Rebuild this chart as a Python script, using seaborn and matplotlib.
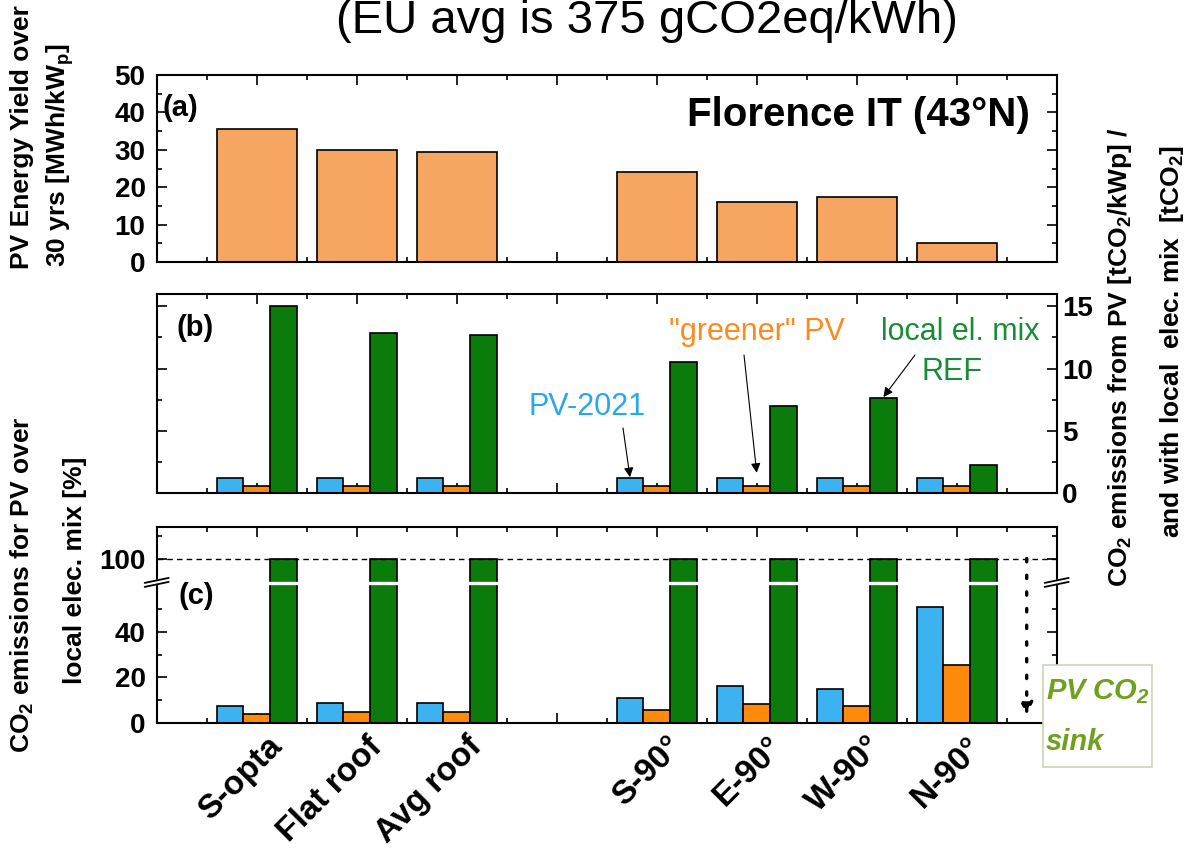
import numpy as np
import pandas as pd
import seaborn as sns
import matplotlib.pyplot as plt
from matplotlib.patches import Rectangle
import matplotlib.transforms as mtransforms

# data
categories = ['S-opta', 'Flat roof', 'Avg roof', 'S-90°', 'E-90°', 'W-90°', 'N-90°']
energy_yield = [35.6, 29.9, 29.4, 24.1, 16.1, 17.5, 5.1]          # MWh/kWp over 30 yrs
pv2021_t = [1.15, 1.15, 1.15, 1.15, 1.15, 1.15, 1.15]           # tCO2/kWp
greener_t = [0.57, 0.57, 0.57, 0.57, 0.57, 0.57, 0.57]
local_mix_t = [15.0, 12.85, 12.7, 10.5, 7.0, 7.6, 2.2]          # tCO2
pv2021_pct = [7.3, 8.8, 8.8, 10.7, 16.3, 14.8, 50.7]            # % of local mix
greener_pct = [3.8, 4.7, 4.7, 5.4, 8.2, 7.3, 25.2]
local_mix_pct = [100, 100, 100, 100, 100, 100, 100]
series = ['PV-2021', '"greener" PV', 'local el. mix']

# blank slot between roof and facade cases
order = categories[:3] + [' '] + categories[3:]

df_t = pd.DataFrame({
    'category': categories * 3,
    'series': [s for s in series for _ in categories],
    'value': pv2021_t + greener_t + local_mix_t,
})
df_pct = pd.DataFrame({
    'category': categories * 3,
    'series': [s for s in series for _ in categories],
    'value': pv2021_pct + greener_pct + local_mix_pct,
})

sns.set_style('ticks')
plt.rcParams['font.family'] = ['Liberation Sans', 'DejaVu Sans']
plt.rcParams['mathtext.fontset'] = 'custom'
plt.rcParams['mathtext.rm'] = 'Liberation Sans'
plt.rcParams['mathtext.bf'] = 'Liberation Sans:bold'
plt.rcParams['mathtext.it'] = 'Liberation Sans:italic'
plt.rcParams['mathtext.bfit'] = 'Liberation Sans:bold:italic'
for key in ('text.color', 'axes.labelcolor', 'xtick.color', 'ytick.color', 'axes.edgecolor'):
    plt.rcParams[key] = 'black'

c_yield = '#F7A662'
palette = {'PV-2021': '#3DB2F0', '"greener" PV': '#FF8A0C', 'local el. mix': '#0B7B0B'}

W, H = 1204, 851
def fx(x):
    return x / W
def fy(y):
    return 1 - y / H

fig = plt.figure(figsize=(W / 100, H / 100), dpi=100)
left, width = fx(156.7), (1056.7 - 156.7) / W
ax_a = fig.add_axes([left, fy(262), width, 187 / H])
ax_b = fig.add_axes([left, fy(492.7), width, 198.7 / H])
ax_c = fig.add_axes([left, fy(722.7), width, 196 / H])

# (a) energy yield
sns.barplot(x=categories, y=energy_yield, order=order, color=c_yield, saturation=1,
            edgecolor='black', linewidth=1.2, width=0.8, ax=ax_a)
# (b) tCO2
sns.barplot(data=df_t, x='category', y='value', hue='series', order=order, hue_order=series,
            palette=palette, saturation=1, edgecolor='black', linewidth=1.2, width=0.8,
            errorbar=None, legend=False, ax=ax_b)
# (c) % of local mix
sns.barplot(data=df_pct, x='category', y='value', hue='series', order=order, hue_order=series,
            palette=palette, saturation=1, edgecolor='black', linewidth=1.2, width=0.8,
            errorbar=None, legend=False, ax=ax_c)

# broken y axis for (c)
lo, hi, k = 61.5, 89.3, 0.001
def fwd(y):
    y = np.asarray(y, dtype=float)
    return np.where(y <= lo, y, np.where(y >= hi, lo + (hi - lo) * k + (y - hi), lo + (y - lo) * k))
def inv(z):
    z = np.asarray(z, dtype=float)
    zb = lo + (hi - lo) * k
    return np.where(z <= lo, z, np.where(z >= zb, z - zb + hi, lo + (z - lo) / k))
ax_c.set_yscale('function', functions=(fwd, inv))

for ax in (ax_a, ax_b, ax_c):
    for s in ax.spines.values():
        s.set_linewidth(1.5)
        s.set_color('black')
    ax.set_xlim(-1, 8)
    ax.set_xticks(range(8))
    ax.set_xticks(np.arange(-0.5, 8, 1), minor=True)
    ax.tick_params(which='both', direction='in', top=True, right=True, width=1.2,
                   color='black', labelcolor='black', labelsize=20)
    ax.tick_params(which='major', length=7)
    ax.tick_params(which='minor', length=3.6)
    ax.set_xlabel('')
    ax.set_ylabel('')
    ax.grid(False)

ax_a.set_ylim(0, 50)
ax_a.set_yticks(range(0, 51, 10))
ax_a.set_yticks(range(5, 50, 10), minor=True)
ax_a.tick_params(axis='y', pad=8)
ax_a.tick_params(axis='x', labelbottom=False)
for lab in ax_a.get_yticklabels():
    lab.set_fontweight('bold')

ax_b.set_ylim(0, 16)
ax_b.set_yticks(range(0, 16, 5))
ax_b.set_yticks(np.arange(2.5, 16, 5), minor=True)
ax_b.tick_params(axis='y', labelleft=False, labelright=True, pad=4)
ax_b.tick_params(axis='x', labelbottom=False)
for lab in ax_b.get_yticklabels():
    lab.set_fontweight('bold')

ax_c.set_ylim(0, 114)
ax_c.set_yticks([0, 20, 40, 100])
ax_c.set_yticks([10, 30, 50, 110], minor=True)
ax_c.tick_params(axis='y', pad=8)
for lab in ax_c.get_yticklabels():
    lab.set_fontweight('bold')
ax_c.set_xticks(range(8))
ax_c.set_xticklabels(order, rotation=45, ha='right', va='top', fontsize=24, fontweight='bold')
ax_c.tick_params(axis='x', pad=6)
shift = mtransforms.ScaledTranslation(32 / 100, 0, fig.dpi_scale_trans)
for lab in ax_c.get_xticklabels():
    lab.set_transform(lab.get_transform() + shift)

# 100 % reference and axis break
ax_c.axhline(100, color='black', lw=1.0, ls=(0, (4, 3)), zorder=3)
ax_c.axhline(lo + 0.02, color='white', lw=2.4, zorder=2.2)
yb = fwd(lo) / fwd(114)
for xs in (0, 1):
    dx, dy = 12 / 900, 1 / 196
    ax_c.fill([xs - dx, xs + dx, xs + dx, xs - dx],
              [yb - 4 * dy, yb + 1 * dy, yb + 5 * dy, yb + 0 * dy],
              color='white', transform=ax_c.transAxes, clip_on=False, zorder=5)
    ax_c.plot([xs - dx, xs + dx], [yb - 4 * dy, yb + 1 * dy], color='black', lw=1.3,
              transform=ax_c.transAxes, clip_on=False, zorder=6)
    ax_c.plot([xs - dx, xs + dx], [yb + 0 * dy, yb + 5 * dy], color='black', lw=1.3,
              transform=ax_c.transAxes, clip_on=False, zorder=6)

# PV CO2 sink arrow + box
ax_c.annotate('', xy=(7.7, 3.4), xytext=(7.7, 100),
              arrowprops=dict(arrowstyle='-|>', linestyle=(0, (1, 4)), lw=2.4, color='black',
                              mutation_scale=18, shrinkA=0, shrinkB=0))
fig.patches.append(Rectangle((fx(1043), fy(767)), 109 / W, 102 / H, transform=fig.transFigure,
                             facecolor='white', edgecolor='#C8D6B4', lw=1.2, zorder=1))
sink_col = '#6FA11F'
fig.text(fx(1046), fy(692), 'PV CO$_\\mathbfit{2}$', color=sink_col, fontsize=21,
         fontweight='bold', fontstyle='italic', ha='left', va='center')
fig.text(fx(1046), fy(742), 'sink', color=sink_col, fontsize=21,
         fontweight='bold', fontstyle='italic', ha='left', va='center')

# annotations in (b)
arw = dict(arrowstyle='-|>', color='black', lw=0.8, mutation_scale=14, shrinkA=0, shrinkB=0)
fig.text(fx(587), fy(407), 'PV-2021', color='#27A9E8', fontsize=22, ha='center', va='center')
ax_b.annotate('', xy=(4 - 0.267, 1.25), xytext=(fx(623), fy(428)),
              textcoords='figure fraction', arrowprops=arw)
fig.text(fx(757), fy(332), '"greener" PV', color='#FF8A1C', fontsize=22, ha='center', va='center')
ax_b.annotate('', xy=(5, 1.6), xytext=(fx(744), fy(355)),
              textcoords='figure fraction', arrowprops=arw)
fig.text(fx(960), fy(332), 'local el. mix', color='#1A8C36', fontsize=22, ha='center', va='center')
fig.text(fx(952), fy(372), 'REF', color='#1A8C36', fontsize=22, ha='center', va='center')
ax_b.annotate('', xy=(6 + 0.267, 7.7), xytext=(fx(915), fy(355)),
              textcoords='figure fraction', arrowprops=arw)

# panel letters, location, title
fig.text(fx(163), fy(108), '(a)', fontsize=21, fontweight='bold', ha='left', va='center')
fig.text(fx(177), fy(328), '(b)', fontsize=21, fontweight='bold', ha='left', va='center')
fig.text(fx(178), fy(596), '(c)', fontsize=21, fontweight='bold', ha='left', va='center')
fig.text(fx(1030), fy(115), 'Florence IT (43°N)', fontsize=29, fontweight='bold',
         ha='right', va='center')
fig.text(fx(647), fy(33), '(EU avg is 375 gCO2eq/kWh)', fontsize=34, ha='center', va='baseline')

# axis labels
lab_kw = dict(rotation=90, ha='center', va='center', fontsize=19, fontweight='bold')
fig.text(fx(22), fy(137), 'PV Energy Yield over', **lab_kw)
fig.text(fx(60), fy(155), '30 yrs [MWh/kW$_\\mathbf{p}$]', **lab_kw)
fig.text(fx(22), fy(585), 'CO$_\\mathbf{2}$ emissions for PV over', **lab_kw)
fig.text(fx(75), fy(570), 'local elec. mix [%]', **lab_kw)
fig.text(fx(1120), fy(357), 'CO$_\\mathbf{2}$ emissions from PV [tCO$_\\mathbf{2}$/kWp] /', **lab_kw)
fig.text(fx(1172), fy(342), 'and with local  elec. mix  [tCO$_\\mathbf{2}$]', **lab_kw)

fig.savefig('out.png', dpi=100)
